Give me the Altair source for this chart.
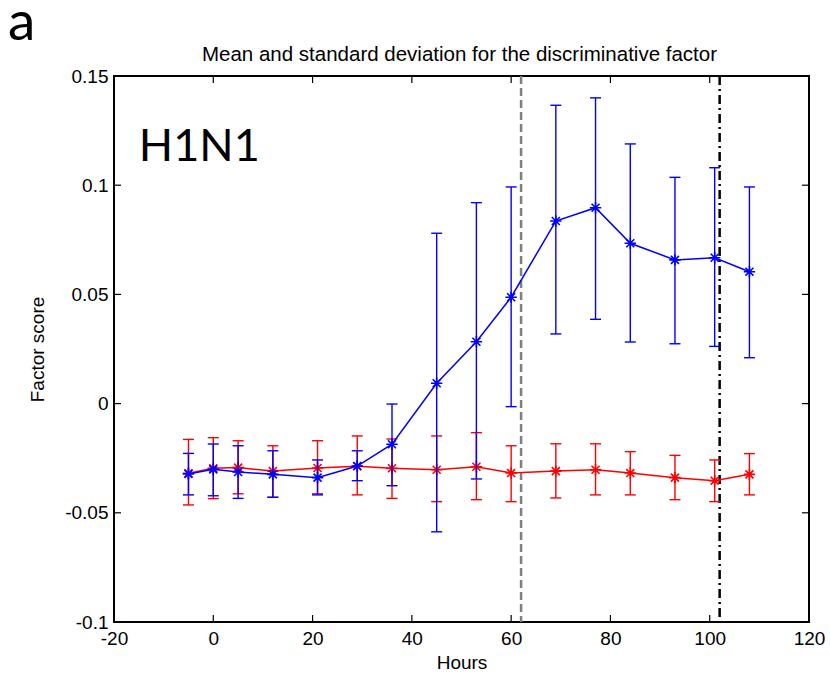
import altair as alt
import pandas as pd

# ---- data ----
hours = [-5, 0, 5, 12, 21, 29, 36, 45, 53, 60, 69, 77, 84, 93, 101, 108]

blue_mean = [-0.0322, -0.0301, -0.0313, -0.0324, -0.0339, -0.0286, -0.0186, 0.0093,
             0.0283, 0.0487, 0.0836, 0.0897, 0.0734, 0.0658, 0.0668, 0.0604]
blue_hi = [-0.0228, -0.0185, -0.0193, -0.0216, -0.0258, -0.0216, -0.0002, 0.0780,
           0.0920, 0.0992, 0.1366, 0.1400, 0.1189, 0.1036, 0.1080, 0.0992]
blue_lo = [-0.0418, -0.0422, -0.0434, -0.0429, -0.0418, -0.0353, -0.0376, -0.0587,
           -0.0345, -0.0014, 0.0319, 0.0386, 0.0282, 0.0274, 0.0262, 0.0210]

red_mean = [-0.0319, -0.0296, -0.0293, -0.0309, -0.0295, -0.0287, -0.0296, -0.0303,
            -0.0289, -0.0318, -0.0309, -0.0303, -0.0318, -0.0339, -0.0353, -0.0324]
red_hi = [-0.0164, -0.0156, -0.0170, -0.0193, -0.0170, -0.0148, -0.0162, -0.0148,
          -0.0133, -0.0193, -0.0184, -0.0184, -0.0220, -0.0237, -0.0258, -0.0229]
red_lo = [-0.0464, -0.0435, -0.0413, -0.0429, -0.0413, -0.0418, -0.0434, -0.0449,
          -0.0440, -0.0449, -0.0432, -0.0418, -0.0418, -0.0440, -0.0449, -0.0418]

x_ticks = [-20, 0, 20, 40, 60, 80, 100, 120]
y_ticks = [-0.1, -0.05, 0, 0.05, 0.1, 0.15]
gray_line = [62]
black_line = [102]

title_text = "Mean and standard deviation for the discriminative factor"
x_title = "Hours"
y_title = "Factor score"
panel_label = "a"
virus_label = "H1N1"
virus_pos_x = [-15]
virus_pos_y = [0.111]

W, H = 695, 546
FONT = "Liberation Sans"
FS = 19
ASTERISK = "M-1,0L1,0M0,-1L0,1M-0.7,-0.7L0.7,0.7M-0.7,0.7L0.7,-0.7"

df_blue = pd.DataFrame({"hours": hours, "mean": blue_mean, "lo": blue_lo, "hi": blue_hi})
df_red = pd.DataFrame({"hours": hours, "mean": red_mean, "lo": red_lo, "hi": red_hi})

xs = alt.Scale(domain=[-20, 120], nice=False, zero=False)
ys = alt.Scale(domain=[-0.1, 0.15], nice=False, zero=False)

x_axis = alt.Axis(values=x_ticks, title=x_title, grid=False, ticks=False, domain=False,
                  labelFont=FONT, labelFontSize=FS, labelColor="black", labelPadding=7,
                  labelFlush=False, labelOverlap=False, labelExpr="'' + datum.value",
                  titleFont=FONT, titleFontSize=FS, titleFontWeight="normal",
                  titleColor="black", titlePadding=5)
y_axis = alt.Axis(values=y_ticks, title=y_title, grid=False, ticks=False, domain=False,
                  labelFont=FONT, labelFontSize=FS, labelColor="black", labelPadding=6,
                  labelFlush=False, labelOverlap=False, labelExpr="'' + datum.value",
                  titleFont=FONT, titleFontSize=FS, titleFontWeight="normal",
                  titleColor="black", titlePadding=17)


def series(df, color):
    base = alt.Chart(df)
    line = base.mark_line(color=color, strokeWidth=1.5).encode(
        x=alt.X("hours:Q", scale=xs, axis=x_axis),
        y=alt.Y("mean:Q", scale=ys, axis=y_axis))
    bars = base.mark_rule(color=color, strokeWidth=1.4).encode(
        x="hours:Q", y="lo:Q", y2="hi:Q")
    cap_hi = base.mark_tick(color=color, orient="horizontal", size=11, thickness=1.4,
                            opacity=1).encode(x="hours:Q", y="hi:Q")
    cap_lo = base.mark_tick(color=color, orient="horizontal", size=11, thickness=1.4,
                            opacity=1).encode(x="hours:Q", y="lo:Q")
    pts = base.mark_point(shape=ASTERISK, filled=False, size=130, strokeWidth=1.6,
                          color=color, opacity=1).encode(x="hours:Q", y="mean:Q")
    return [bars, cap_hi, cap_lo, line, pts]


vgray = alt.Chart(pd.DataFrame({"x": gray_line})).mark_rule(
    color="#808080", strokeWidth=2.5, strokeDash=[8, 4]).encode(x="x:Q")
vblack = alt.Chart(pd.DataFrame({"x": black_line})).mark_rule(
    color="black", strokeWidth=2.5, strokeDash=[9, 4, 2, 4]).encode(x="x:Q")

# inward ticks on all four sides
xt = alt.Chart(pd.DataFrame({"t": x_ticks}))
yt = alt.Chart(pd.DataFrame({"t": y_ticks}))
tick_b = xt.mark_rule(color="black", strokeWidth=1.2).encode(
    x="t:Q", y=alt.value(H), y2=alt.value(H - 7))
tick_t = xt.mark_rule(color="black", strokeWidth=1.2).encode(
    x="t:Q", y=alt.value(0), y2=alt.value(7))
tick_l = yt.mark_rule(color="black", strokeWidth=1.2).encode(
    y="t:Q", x=alt.value(0), x2=alt.value(7))
tick_r = yt.mark_rule(color="black", strokeWidth=1.2).encode(
    y="t:Q", x=alt.value(W), x2=alt.value(W - 7))

virus = alt.Chart(pd.DataFrame({"x": virus_pos_x, "y": virus_pos_y, "t": [virus_label]})).mark_text(
    font="Lato", fontSize=45, align="left", baseline="alphabetic", color="black").encode(
    x="x:Q", y="y:Q", text="t:N")

panel = alt.Chart(pd.DataFrame({"t": [panel_label]})).mark_text(
    font="Lato", fontSize=55, align="left", baseline="alphabetic", color="black").encode(
    x=alt.value(-106), y=alt.value(-36), text="t:N")

title = alt.Chart(pd.DataFrame({"t": [title_text]})).mark_text(
    font=FONT, fontSize=20.5, align="center", baseline="alphabetic", color="black").encode(
    x=alt.value(W / 2 - 2), y=alt.value(-15), text="t:N")

layers = [vgray, vblack] + series(df_red, "#ff0000") + series(df_blue, "#0000ff") + \
    [tick_b, tick_t, tick_l, tick_r, virus, panel, title]

chart = alt.layer(*layers).properties(
    width=W, height=H,
    autosize=alt.AutoSizeParams(type="none"),
    padding={"left": 114, "top": 76, "right": 21, "bottom": 59},
    background="white",
).configure_view(stroke="black", strokeWidth=2)

chart.save("out.html", embed_options={"renderer": "svg", "actions": False})
